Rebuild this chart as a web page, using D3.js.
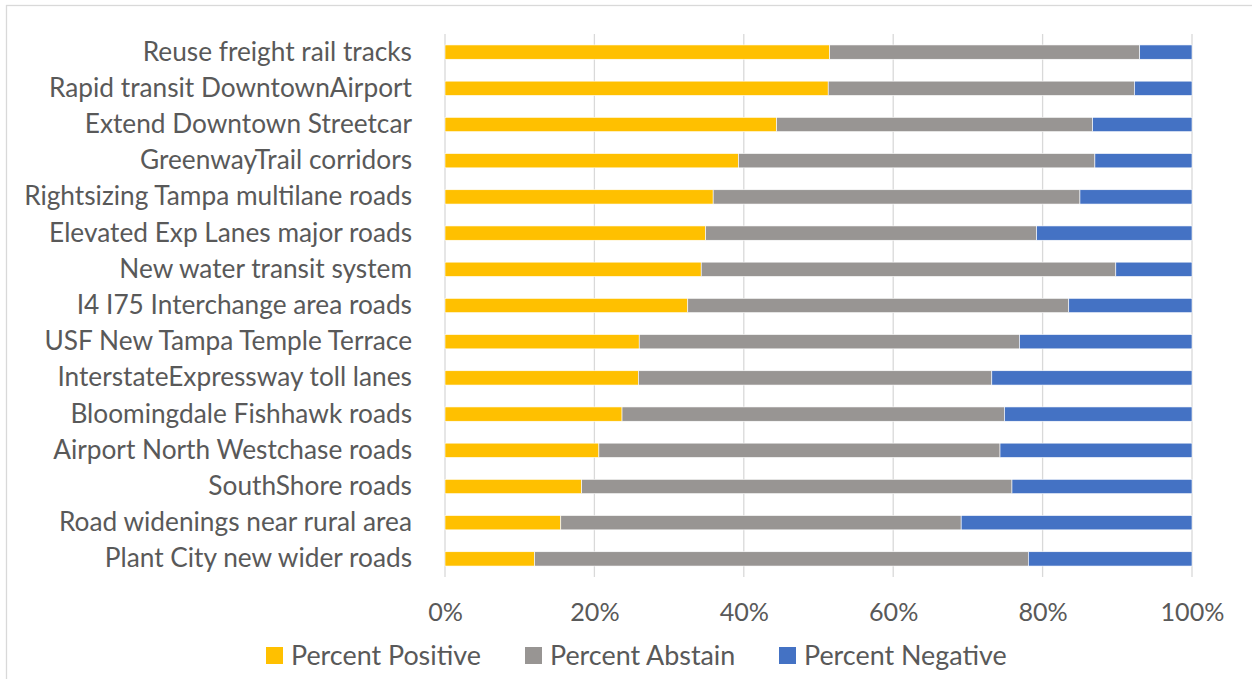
<!DOCTYPE html>
<html lang="en">
<head>
  <meta charset="UTF-8" />
  <script src="https://d3js.org/d3.v7.min.js"></script>
  <title>Project support</title>
  <style>
    body { margin: 0; background: #fff; }
    text { font-family: Lato, "Open Sans", sans-serif; fill: #595959; }
  </style>
</head>
<body>
<script type="text/javascript">
// categories top to bottom
var projects = [
  "Reuse freight rail tracks",
  "Rapid transit DowntownAirport",
  "Extend Downtown Streetcar",
  "GreenwayTrail corridors",
  "Rightsizing Tampa multilane roads",
  "Elevated Exp Lanes major roads",
  "New water transit system",
  "I4 I75 Interchange area roads",
  "USF New Tampa Temple Terrace",
  "InterstateExpressway toll lanes",
  "Bloomingdale Fishhawk roads",
  "Airport North Westchase roads",
  "SouthShore roads",
  "Road widenings near rural area",
  "Plant City new wider roads"
];
var positive = [51.5, 51.3, 44.4, 39.3, 35.9, 34.9, 34.3, 32.5, 26.0, 25.9, 23.7, 20.6, 18.3, 15.5, 12.0];
var abstain  = [41.5, 41.0, 42.3, 47.7, 49.1, 44.3, 55.5, 51.0, 50.9, 47.3, 51.2, 53.7, 57.6, 53.6, 66.1];
var negative = [7.0, 7.7, 13.3, 13.0, 15.0, 20.8, 10.2, 16.5, 23.1, 26.8, 25.1, 25.7, 24.1, 30.9, 21.9];
var seriesNames = ["Percent Positive", "Percent Abstain", "Percent Negative"];
var tickVals = [0, 20, 40, 60, 80, 100];

var colors = ["#FFC000", "#989593", "#4472C4"];

var W = 1252, H = 679;
var plotL = 445, plotR = 1192, plotT = 34, plotB = 577;

var svg = d3.select("body").append("svg").attr("width", W).attr("height", H);

// chart frame
svg.append("rect").attr("x", 6.5).attr("y", 5.5).attr("width", W).attr("height", H + 10)
  .attr("fill", "#fff").attr("stroke", "#d9d9d9").attr("stroke-width", 1.3);

var rows = projects.map(function(p, i) {
  return { name: p, pos: positive[i], abs: abstain[i], neg: negative[i] };
});
var stack = d3.stack().keys(["pos", "abs", "neg"]).offset(d3.stackOffsetExpand);
var layers = stack(rows);

var x = d3.scaleLinear().domain([0, 1]).range([plotL, plotR]);
var y = d3.scaleBand().domain(projects).range([plotT, plotB]).paddingInner(0.605).paddingOuter(0.3025);

// gridlines
svg.append("g").selectAll("line").data(tickVals).enter().append("line")
  .attr("x1", function(d){ return x(d / 100); }).attr("x2", function(d){ return x(d / 100); })
  .attr("y1", plotT).attr("y2", plotB)
  .attr("stroke", "#d9d9d9").attr("stroke-width", 1.3);

// bars
svg.append("g").selectAll("g").data(layers).enter().append("g")
  .attr("fill", function(d, i){ return colors[i]; })
  .selectAll("rect").data(function(d){ return d; }).enter().append("rect")
  .attr("x", function(d){ return x(d[0]); })
  .attr("width", function(d){ return x(d[1]) - x(d[0]); })
  .attr("y", function(d){ return y(d.data.name); })
  .attr("height", y.bandwidth())
  .attr("stroke", "#ffffff").attr("stroke-width", 0.6);

// fit a font size so a sample string reaches a target width
function fitSize(sample, target, base) {
  var t = svg.append("text").style("font-size", base + "px").text(sample);
  var w = t.node().getComputedTextLength();
  t.remove();
  return base * target / w;
}
var catSize = fitSize("Rightsizing Tampa multilane roads", 388, 22);
var tickSize = fitSize("100%", 64, 28);
var legSize = fitSize("Percent Positive", 190, 28);

// category labels
var yAxis = svg.append("g").attr("transform", "translate(" + plotL + ",0)")
  .call(d3.axisLeft(y).tickSize(0).tickPadding(33));
yAxis.select(".domain").remove();
yAxis.selectAll("text").attr("fill", "#595959").style("font-size", catSize + "px")
  .style("font-family", "Lato, 'Open Sans', sans-serif");

// x tick labels
var xAxis = svg.append("g").attr("transform", "translate(0," + plotB + ")")
  .call(d3.axisBottom(x).tickValues(tickVals.map(function(d){ return d / 100; }))
    .tickFormat(d3.format(".0%")).tickSize(0).tickPadding(26));
xAxis.select(".domain").remove();
xAxis.selectAll("text").attr("fill", "#595959").style("font-size", tickSize + "px")
  .style("font-family", "Lato, 'Open Sans', sans-serif");

// legend
var legX = [266, 525, 779];
var leg = svg.append("g").selectAll("g").data(seriesNames).enter().append("g")
  .attr("transform", function(d, i){ return "translate(" + legX[i] + ",647)"; });
leg.append("rect").attr("width", 17).attr("height", 17).attr("fill", function(d, i){ return colors[i]; });
leg.append("text").attr("x", 25).attr("y", 8.5).attr("dy", "0.36em")
  .style("font-size", legSize + "px").text(function(d){ return d; });
</script>
</body>
</html>
